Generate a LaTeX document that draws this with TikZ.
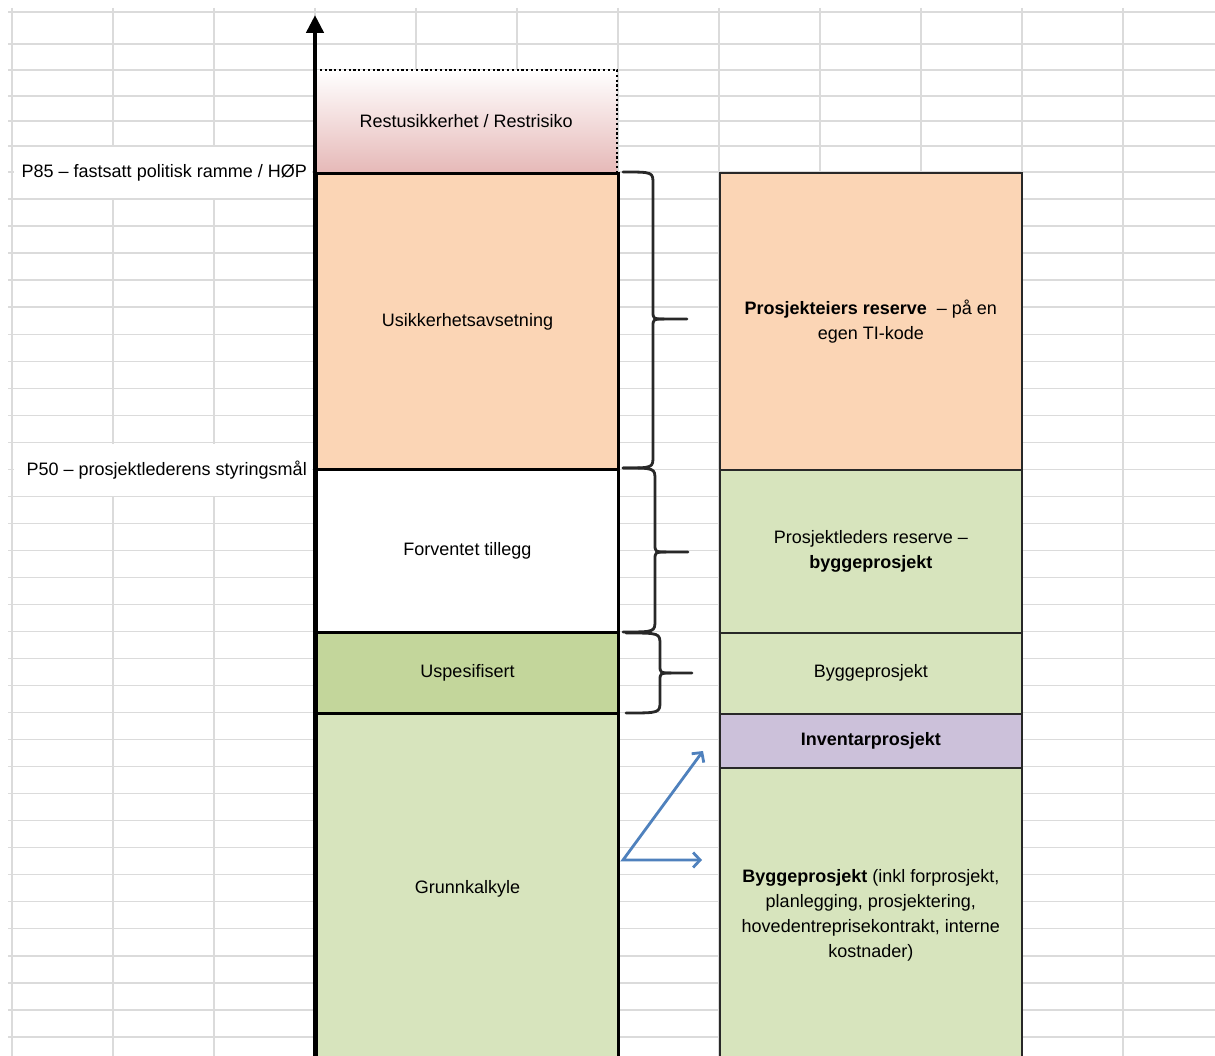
\documentclass[tikz,border=0pt]{standalone}
\usepackage{fontspec}
\setmainfont{Liberation Sans}
\usetikzlibrary{arrows.meta}

\definecolor{gridgray}{RGB}{219,219,219}
\definecolor{peach}{RGB}{251,213,181}
\definecolor{palegreen}{RGB}{215,228,189}
\definecolor{midgreen}{RGB}{195,214,155}
\definecolor{lilac}{RGB}{204,193,218}
\definecolor{rosy}{RGB}{230,185,184}
\definecolor{arrowblue}{RGB}{79,129,189}
\definecolor{edgegray}{RGB}{40,40,40}

% curly brace opening to the right: x-ends, top, bottom, spine x, tip x, tip y
\newcommand{\sidebrace}[6]{%
  \draw[bracepath] (#1,#2) .. controls (#4,#2) .. (#4,{#2+12}) -- (#4,{#6-8})
    .. controls (#4,#6) .. ({#4+11},#6) -- (#5,#6);
  \draw[bracepath] ({#4+11},#6) .. controls (#4,#6) .. (#4,{#6+8}) -- (#4,{#3-12})
    .. controls (#4,#3) .. (#1,#3);
}

\begin{document}
\begin{tikzpicture}[x=1pt,y=-1pt,
  every node/.style={font=\fontsize{18}{25}\selectfont, inner sep=0pt},
  gridline/.style={draw=gridgray, line width=1.3pt},
  leftbox/.style={draw=black, line width=3pt, minimum width=302pt, anchor=north west, align=center},
  rightbox/.style={draw=edgegray, line width=1.6pt, minimum width=302pt, anchor=north west, align=center},
  bracepath/.style={draw=edgegray, line width=2.8pt, line cap=round, line join=round},
  fork/.style={draw=arrowblue, line width=2.8pt, line join=miter,
    {Straight Barb[length=7pt, width=15pt]}-{Straight Barb[length=7pt, width=15pt]}},
]
\useasboundingbox (0,0) rectangle (1215,1056);
\clip (0,0) rectangle (1215,1056);
\fill[white] (0,0) rectangle (1215,1056);

% spreadsheet grid
\foreach \y in {12,44,70,96,121,146}
  \draw[gridline] (8,\y) -- (1215,\y);
\foreach \k in {0,...,32}
  \draw[gridline] (8,{172+27.03*\k}) -- (1215,{172+27.03*\k});
\foreach \x in {12,113,...,1123}
  \draw[gridline] (\x,8) -- (\x,1056);

% white cells behind the level labels
\fill[white] (14,147) rectangle (312,198);
\fill[white] (14,444) rectangle (312,496);

% residual risk band with dotted outline
\node[anchor=north west, minimum width=302pt, minimum height=102pt,
      top color=white, bottom color=rosy, align=center] (rest) at (315,70)
  {Restusikkerhet / Restrisiko};
\draw[line width=1.9pt, dash pattern=on 2.2pt off 2.6pt]
  (rest.north west) -- (rest.north east) -- (rest.south east);

% left column: cost build-up
\node[leftbox, fill=peach, minimum height=296pt] (usik) at (315,172) {Usikkerhetsavsetning};
\node[leftbox, fill=white, minimum height=163pt] (forv) at (315,468) {Forventet tillegg};
\node[leftbox, fill=midgreen, minimum height=81pt] (uspes) at (315,631) {Uspesifisert};
\node[leftbox, fill=palegreen, minimum height=350pt] (grunn) at (315,712) {Grunnkalkyle};

% right column: allocation
\node[rightbox, fill=peach, minimum height=297pt] (peier) at (719,172)
  {\textbf{Prosjekteiers reserve} \ – på en\\egen TI-kode};
\node[rightbox, fill=palegreen, minimum height=163pt] (pleder) at (719,469)
  {Prosjektleders reserve –\\\textbf{byggeprosjekt}};
\node[rightbox, fill=palegreen, minimum height=81pt] (bygg) at (719,632) {Byggeprosjekt};
\node[rightbox, fill=lilac, minimum height=54pt] (inv) at (719,713) {\textbf{Inventarprosjekt}};
\node[rightbox, fill=palegreen, minimum height=295pt] (byggb) at (719,767)
  {\textbf{Byggeprosjekt} (inkl forprosjekt,\\planlegging, prosjektering,\\hovedentreprisekontrakt, interne\\kostnader)};

% level labels
\node[anchor=east] (p85) at (307,173) {P85 – fastsatt politisk ramme / HØP};
\node[anchor=east] (p50) at (307,470) {P50 – prosjektlederens styringsmål};

% vertical axis
\coordinate (axisfoot) at (315,1062);
\coordinate (axistop) at (315,15);
\draw[line width=4.5pt, -{Triangle[length=18pt, width=17pt]}] (axisfoot) -- (axistop);

% braces
\sidebrace{623}{172}{468}{653}{687}{319}
\sidebrace{623}{468}{632}{655}{688}{552}
\sidebrace{626}{633}{713}{660}{692}{673}

% split of the base estimate
\coordinate (forkstart) at (623,860);
\coordinate (toinv) at (703,751);
\coordinate (tobygg) at (702,860);
\draw[fork] (toinv) -- (forkstart) -- (tobygg);
\end{tikzpicture}
\end{document}
